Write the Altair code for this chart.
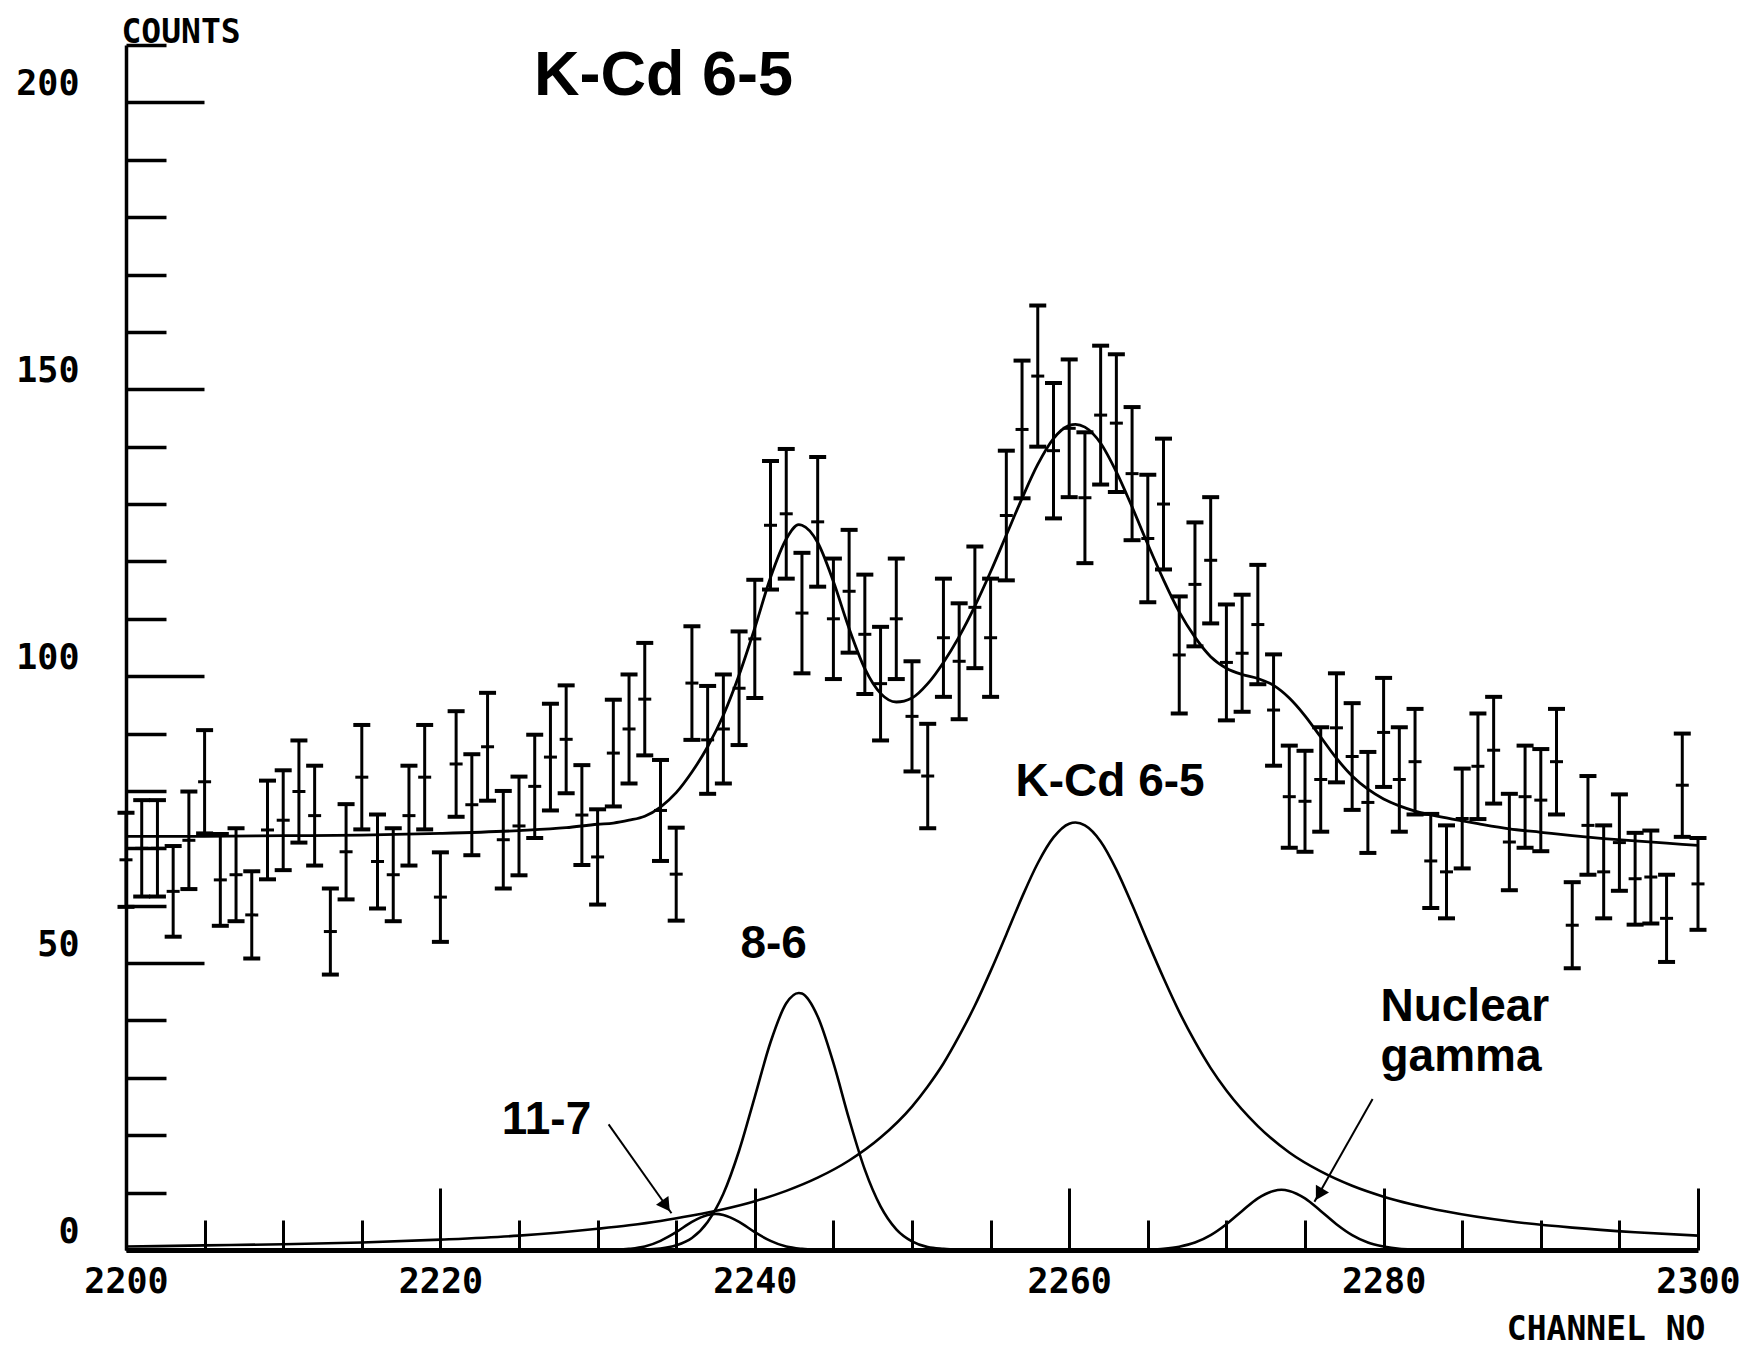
import altair as alt
import pandas as pd

# ---------------- data ----------------
channels = list(range(2200, 2301))
counts = [68, 70, 70, 62.5, 71.4, 81.6, 64.5, 65.4, 58.4, 73.2,
          74.9, 79.9, 75.7, 55.5, 69.4, 82.4, 67.7, 65.4, 75.7, 82.4,
          61.5, 84.7, 77.6, 87.7, 71.5, 73.9, 80.8, 85.9, 89.0, 75.8,
          68.5, 86.6, 90.8, 96.0, 76.6, 65.5, 98.8, 88.9, 90.8, 97.9,
          106.5, 126.3, 128.3, 111.0, 126.9, 110.0, 114.8, 107.3, 98.7, 110.0,
          93.0, 82.6, 106.7, 102.6, 112.0, 106.7, 128.0, 143.0, 152.3, 139.3,
          143.2, 131.1, 145.5, 144.1, 135.3, 124.0, 130.0, 103.7, 116.0, 120.2,
          102.4, 104.0, 109.0, 94.1, 79.0, 78.2, 82.0, 91.0, 86.0, 78.0,
          90.2, 82.0, 85.1, 67.8, 65.9, 75.2, 84.3, 87.1, 71.1, 79.0,
          78.4, 85.1, 56.6, 74.0, 65.9, 71.0, 64.7, 65.0, 57.8, 81.0,
          63.8]
errors = [8.2, 8.4, 8.4, 7.9, 8.5, 9.0, 8.0, 8.1, 7.6, 8.6,
          8.7, 8.9, 8.7, 7.5, 8.3, 9.1, 8.2, 8.1, 8.7, 9.1,
          7.8, 9.2, 8.8, 9.4, 8.5, 8.6, 9.0, 9.3, 9.4, 8.7,
          8.3, 9.3, 9.5, 9.8, 8.8, 8.1, 9.9, 9.4, 9.5, 9.9,
          10.3, 11.2, 11.3, 10.5, 11.3, 10.5, 10.7, 10.4, 9.9, 10.5,
          9.6, 9.1, 10.3, 10.1, 10.6, 10.3, 11.3, 12.0, 12.3, 11.8,
          12.0, 11.4, 12.1, 12.0, 11.6, 11.1, 11.4, 10.2, 10.8, 11.0,
          10.1, 10.2, 10.4, 9.7, 8.9, 8.8, 9.1, 9.5, 9.3, 8.8,
          9.5, 9.1, 9.2, 8.2, 8.1, 8.7, 9.2, 9.3, 8.4, 8.9,
          8.9, 9.2, 7.5, 8.6, 8.1, 8.4, 8.0, 8.1, 7.6, 9.0,
          8.0]

fit_ch = [2200, 2205, 2210, 2215, 2220, 2225, 2228,
          2230, 2231, 2232, 2233, 2234, 2235, 2236, 2237, 2238, 2239,
          2240, 2241, 2242, 2242.8, 2243, 2244, 2245, 2246, 2247, 2248, 2249,
          2250, 2251, 2252, 2253, 2254, 2255, 2256, 2257, 2258, 2259,
          2260, 2260.4, 2261, 2262, 2263, 2264, 2265, 2266, 2267, 2268, 2269,
          2270, 2271, 2272, 2273, 2274, 2275, 2276, 2277, 2278, 2279,
          2280, 2281, 2282, 2284, 2286, 2288, 2290, 2292, 2294, 2296, 2298, 2300]
fit_val = [72.1, 72.1, 72.2, 72.3, 72.6, 73.1, 73.6,
           74.2, 74.4, 74.9, 75.6, 77.2, 79.7, 83.3, 87.7, 93.2, 100.2,
           108.4, 117.2, 123.9, 126.4, 126.3, 123.3, 116.5, 108.3, 101.3, 97.0, 95.5,
           96.2, 98.7, 102.4, 106.9, 112.2, 118.2, 124.6, 131.0, 136.9, 141.4,
           143.7, 143.9, 143.4, 140.6, 135.6, 129.5, 123.0, 116.8, 111.2, 106.8, 103.4,
           101.4, 100.3, 99.6, 98.4, 96.2, 93.1, 89.4, 85.7, 82.6, 80.3,
           78.6, 77.4, 76.5, 75.3, 74.3, 73.4, 72.8, 72.2, 71.7, 71.3, 70.9, 70.5]

kcd_ch = [2200, 2205, 2210, 2215, 2220, 2225, 2230, 2232, 2234, 2236, 2238,
          2240, 2242, 2244, 2246, 2248, 2250, 2251, 2252, 2253, 2254, 2255,
          2256, 2257, 2258, 2259, 2260, 2260.4, 2261, 2262, 2263, 2264, 2265, 2266,
          2267, 2268, 2269, 2270, 2272, 2274, 2276, 2278, 2280, 2284, 2288,
          2292, 2296, 2300]
kcd_val = [0.6, 0.8, 1.0, 1.3, 1.8, 2.5, 3.7, 4.3, 5.05, 6.0, 7.1,
           8.5, 10.3, 12.6, 15.6, 19.6, 25.0, 28.5, 32.5, 37.3, 42.6, 48.6,
           55.0, 61.5, 67.4, 71.9, 74.3, 74.5, 74.0, 71.2, 66.3, 60.2, 53.7, 47.4,
           41.5, 36.3, 31.7, 27.8, 21.6, 17.0, 13.7, 11.2, 9.3, 6.7, 5.0,
           3.9, 3.1, 2.5]

p86_ch = [2233, 2234, 2235, 2236, 2237, 2238, 2239, 2240, 2241, 2242, 2242.8, 2243,
          2244, 2245, 2246, 2247, 2248, 2249, 2250, 2251, 2252, 2253]
p86_val = [0.1, 0.27, 0.82, 2.1, 4.9, 9.8, 17.3, 26.7, 36.2, 43.0, 44.8, 44.7,
           40.7, 32.6, 22.8, 14.0, 7.6, 3.6, 1.5, 0.5, 0.2, 0.05]

p117_ch = [2230, 2231, 2232, 2233, 2234, 2235, 2236, 2237, 2237.5, 2238, 2239,
           2240, 2241, 2242, 2243, 2244, 2245]
p117_val = [0.0, 0.05, 0.2, 0.6, 1.6, 3.1, 4.9, 6.1, 6.3, 6.1, 4.9,
            3.1, 1.6, 0.6, 0.2, 0.05, 0.0]

ng_ch = [2264, 2265, 2266, 2267, 2268, 2269, 2270, 2271, 2272, 2273, 2273.5,
         2274, 2275, 2276, 2277, 2278, 2279, 2280, 2281, 2282, 2283]
ng_val = [0.0, 0.07, 0.22, 0.58, 1.3, 2.6, 4.5, 6.8, 9.0, 10.3, 10.5,
          10.3, 9.0, 6.8, 4.5, 2.6, 1.3, 0.6, 0.2, 0.07, 0.0]

x_label_values = [2200, 2220, 2240, 2260, 2280, 2300]
y_label_values = [0, 50, 100, 150, 200]
x_minor_ticks = list(range(2200, 2301, 5))
y_minor_ticks = list(range(0, 211, 10))

# annotations
title_text = ["K-Cd 6-5"]
title_x = [2234.2]
title_y = [201.2]

ann_text = ["K-Cd 6-5", "8-6", "11-7"]
ann_x = [2262.6, 2241.2, 2226.75]
ann_y = [79.1, 50.9, 20.3]

ng_text = ["Nuclear", "gamma"]
ng_x = [2279.8, 2279.8]
ng_y = [39.9, 31.2]

arrow_x = [2230.7, 2279.3]
arrow_y = [21.9, 26.3]
arrow_x2 = [2234.7, 2275.6]
arrow_y2 = [6.4, 8.4]
head_x = [2234.35, 2275.9]
head_y = [7.7, 9.7]
head_angle = [145, 210]

# ---------------- frames ----------------
pts = pd.DataFrame({"ch": channels, "c": counts, "err": errors})
pts["lo"] = pts["c"] - pts["err"]
pts["hi"] = pts["c"] + pts["err"]
caps = pd.concat([pts[["ch"]].assign(v=pts["lo"]), pts[["ch"]].assign(v=pts["hi"])])

fit = pd.DataFrame({"ch": fit_ch, "v": fit_val})
comps = pd.concat([
    pd.DataFrame({"ch": kcd_ch, "v": kcd_val, "comp": "K-Cd 6-5"}),
    pd.DataFrame({"ch": p86_ch, "v": p86_val, "comp": "8-6"}),
    pd.DataFrame({"ch": p117_ch, "v": p117_val, "comp": "11-7"}),
    pd.DataFrame({"ch": ng_ch, "v": ng_val, "comp": "Nuclear gamma"}),
])
titles = pd.DataFrame({"t": title_text, "x": title_x, "y": title_y})
anns = pd.DataFrame({"t": ann_text, "x": ann_x, "y": ann_y})
ngs = pd.DataFrame({"t": ng_text, "x": ng_x, "y": ng_y})
arrows = pd.DataFrame({"x": arrow_x, "y": arrow_y, "x2": arrow_x2, "y2": arrow_y2})
heads = pd.DataFrame({"x": head_x, "y": head_y, "a": head_angle})

W, H = 1572, 1205
MONO = "DejaVu Sans Mono"
SANS = "Liberation Sans"

xs = alt.Scale(domain=[2200, 2300], nice=False, zero=False)
ys = alt.Scale(domain=[0, 210], nice=False, zero=False)

x_main = alt.Axis(values=x_label_values, format="d", ticks=False, tickSize=0,
                  grid=False, domainWidth=5, domainColor="black",
                  labelFont=MONO, labelFontSize=35, labelFontWeight="bold",
                  labelColor="black",
                  labelPadding=14, labelFlush=False, labelOverlap=False,
                  title="CHANNEL NO", titleFont=MONO, titleFontSize=33,
                  titleFontWeight="bold", titleColor="black",
                  titleX=1579, titleY=89, titleAlign="right",
                  titleBaseline="alphabetic")
y_main = alt.Axis(values=y_label_values, format="d", ticks=False, tickSize=0,
                  grid=False, domainWidth=3.5, domainColor="black",
                  labelFont=MONO, labelFontSize=35, labelFontWeight="bold",
                  labelColor="black",
                  labelPadding=47, labelOffset=-19, labelOverlap=False,
                  title="COUNTS", titleFont=MONO, titleFontSize=33,
                  titleFontWeight="bold", titleColor="black", titleAngle=0,
                  titleX=-5, titleY=-3, titleAlign="left",
                  titleBaseline="alphabetic")
x_ticks = alt.Axis(orient="top", offset=-H, values=x_minor_ticks, labels=False,
                   domain=False, grid=False, tickColor="black", tickWidth=3,
                   tickSize={"condition": {"test": "datum.value % 20 === 0", "value": 62},
                             "value": 30},
                   title="")
y_ticks = alt.Axis(orient="right", offset=-W, values=y_minor_ticks, labels=False,
                   domain=False, grid=False, tickColor="black", tickWidth=3.5,
                   tickSize={"condition": {"test": "datum.value % 50 === 0", "value": 78},
                             "value": 40},
                   title="")

fit_line = alt.Chart(fit).mark_line(color="black", strokeWidth=2.8,
                                    interpolate="monotone").encode(
    x=alt.X("ch:Q", scale=xs, axis=x_main),
    y=alt.Y("v:Q", scale=ys, axis=y_main),
)

comp_lines = alt.Chart(comps).mark_line(color="black", strokeWidth=2.6,
                                        interpolate="monotone").encode(
    x=alt.X("ch:Q", scale=xs, axis=x_ticks),
    y=alt.Y("v:Q", scale=ys, axis=y_ticks),
    detail="comp:N",
)

bars = alt.Chart(pts).mark_rule(color="black", strokeWidth=3).encode(
    x=alt.X("ch:Q", scale=xs, axis=None),
    y=alt.Y("lo:Q", scale=ys, axis=None),
    y2="hi:Q",
)
cap_ticks = alt.Chart(caps).mark_tick(color="black", orient="horizontal",
                                      size=17, thickness=4, opacity=1).encode(
    x=alt.X("ch:Q", scale=xs, axis=None),
    y=alt.Y("v:Q", scale=ys, axis=None),
)
mid_ticks = alt.Chart(pts).mark_tick(color="black", orient="horizontal",
                                     size=13, thickness=3, opacity=1).encode(
    x=alt.X("ch:Q", scale=xs, axis=None),
    y=alt.Y("c:Q", scale=ys, axis=None),
)

arrow_lines = alt.Chart(arrows).mark_rule(color="black", strokeWidth=2).encode(
    x=alt.X("x:Q", scale=xs, axis=None),
    y=alt.Y("y:Q", scale=ys, axis=None),
    x2="x2:Q", y2="y2:Q",
)
arrow_heads = alt.Chart(heads).mark_point(shape="triangle-up", filled=True,
                                          color="black", size=230, opacity=1).encode(
    x=alt.X("x:Q", scale=xs, axis=None),
    y=alt.Y("y:Q", scale=ys, axis=None),
    angle=alt.Angle("a:Q", scale=None),
)

title_txt = alt.Chart(titles).mark_text(font=SANS, fontWeight="bold", fontSize=63,
                                        color="black", align="center",
                                        baseline="alphabetic").encode(
    x=alt.X("x:Q", scale=xs, axis=None),
    y=alt.Y("y:Q", scale=ys, axis=None),
    text="t:N",
)
ann_txt = alt.Chart(anns).mark_text(font=SANS, fontWeight="bold", fontSize=46,
                                    color="black", align="center",
                                    baseline="alphabetic").encode(
    x=alt.X("x:Q", scale=xs, axis=None),
    y=alt.Y("y:Q", scale=ys, axis=None),
    text="t:N",
)
ng_txt = alt.Chart(ngs).mark_text(font=SANS, fontWeight="bold", fontSize=46,
                                  color="black", align="left",
                                  baseline="alphabetic").encode(
    x=alt.X("x:Q", scale=xs, axis=None),
    y=alt.Y("y:Q", scale=ys, axis=None),
    text="t:N",
)

chart = alt.layer(
    fit_line, comp_lines, bars, cap_ticks, mid_ticks,
    arrow_lines, arrow_heads, title_txt, ann_txt, ng_txt,
).resolve_axis(
    x="independent", y="independent"
).properties(
    width=W, height=H,
    autosize=alt.AutoSizeParams(type="none"),
    padding={"left": 126, "top": 45, "right": 55, "bottom": 101},
    background="white",
).configure_view(strokeWidth=0)

chart.save("out.html", embed_options={"renderer": "svg", "actions": False})
